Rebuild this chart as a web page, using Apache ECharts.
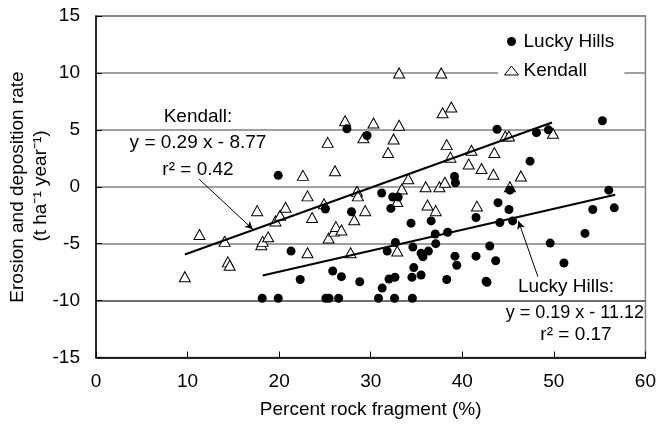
<!DOCTYPE html>
<html>
<head>
<meta charset="utf-8">
<script src="https://cdn.jsdelivr.net/npm/echarts@6/dist/echarts.min.js"></script>
<style>
html,body{margin:0;padding:0;background:#fff;}
#c{width:659px;height:429px;}
</style>
</head>
<body>
<div id="c"></div>
<script>
// ---- data ----
const xTicks = [0, 10, 20, 30, 40, 50, 60];
const yTicks = [-15, -10, -5, 0, 5, 10, 15];

const kendallX = [9.7, 11.3, 14.05, 14.4, 14.6, 17.6, 18.05, 18.2, 18.8, 19.6, 20.1, 20.7, 22.6, 23.1, 23.6, 23.1, 24.9, 25.3, 25.4, 26.0, 26.2, 26.8, 26.1, 27.2, 27.8, 28.2, 28.5, 28.6, 29.2, 29.4, 30.3, 31.9, 32.5, 32.9, 32.9, 33.1, 33.1, 33.4, 34.1, 36.0, 36.2, 37.1, 37.5, 37.7, 37.85, 38.1, 38.3, 38.7, 38.8, 40.7, 41.0, 41.6, 42.1, 43.4, 43.5, 44.7, 45.1, 45.2, 46.4, 49.9];
const kendallY = [-7.9, -4.2, -4.8, -6.6, -6.9, -2.1, -5.1, -4.8, -4.4, -3.0, -2.5, -1.8, 1.0, -0.8, -2.7, -5.8, -1.5, 3.9, -4.5, -3.9, -3.5, -3.8, 1.4, 5.8, -5.8, -2.9, -0.4, -0.8, 4.3, -2.1, 5.6, 3.0, 4.2, -1.3, -5.65, 5.4, 10.0, -0.2, 0.7, 0.0, -1.6, -2.1, 0.0, 10.0, 6.5, 0.4, 3.7, 2.6, 7.0, 2.0, 3.2, -1.7, 1.6, 1.1, 3.0, 4.45, 4.45, 0.0, 0.95, 4.7];

const luckyX = [18.15, 19.9, 19.9, 21.3, 22.3, 25.05, 25.1, 25.45, 25.85, 26.5, 26.8, 27.4, 27.9, 28.8, 29.6, 30.85, 31.2, 31.25, 31.8, 32.0, 32.2, 32.4, 32.6, 32.65, 32.7, 33.0, 34.4, 34.55, 34.6, 34.5, 34.7, 35.5, 35.5, 35.7, 36.3, 36.6, 37.05, 37.1, 38.4, 38.3, 39.15, 39.25, 39.2, 39.4, 41.5, 41.5, 42.6, 42.7, 43.0, 43.65, 43.8, 43.9, 44.1, 45.1, 45.2, 45.5, 47.4, 48.1, 49.4, 49.6, 51.1, 53.4, 54.25, 55.3, 56.0, 56.6];
const luckyY = [-9.8, -9.8, 1.0, -5.65, -8.15, -1.95, -9.8, -9.8, -7.4, -9.8, -7.9, 5.1, -2.2, -8.35, 4.5, -9.8, -0.55, -8.9, -5.65, -8.1, -1.9, -0.9, -9.8, -7.95, -4.9, -0.9, -3.2, -9.8, -5.3, -7.95, -7.1, -5.85, -7.75, -6.15, -5.65, -3.0, -4.15, -5.0, -4.0, -8.15, 0.9, 0.35, -6.1, -6.9, -2.7, -6.1, -8.3, -8.4, -5.2, -6.5, 5.05, -1.4, -3.15, -2.0, -0.3, -3.0, 2.25, 4.75, 5.0, -4.95, -6.7, -4.1, -2.0, 5.8, -0.3, -1.85];

// trend lines (end points)
const kendallTrendX = [9.7, 49.8];
const kendallTrendY = [-5.95, 5.65];
const luckyTrendX = [18.2, 56.7];
const luckyTrendY = [-7.8, -0.7];

// annotation arrows (data coords: label end -> trend line)
const kendallArrowX = [11.27, 17.13];
const kendallArrowY = [0.66, -3.74];
const luckyArrowX = [48.26, 46.13];
const luckyArrowY = [-7.91, -3.01];

const seriesNames = ['Lucky Hills', 'Kendall'];

// ---- chart ----
const FONT = "'Liberation Sans', Arial, sans-serif";
const FS = 19;
const zip = (xs, ys) => xs.map((x, i) => [x, ys[i]]);
const chart = echarts.init(document.getElementById('c'), null, {renderer: 'canvas'});

function txt(x, y, text, align, size, rot) {
  const el = {type: 'text', x: x, y: y, z: 10,
    style: {text: text, font: (size || FS) + 'px ' + FONT, fill: '#000',
      align: align, verticalAlign: 'middle', textAlign: align, textVerticalAlign: 'middle'}};
  if (rot) el.rotation = rot;
  return el;
}

const option = {
  animation: false,
  backgroundColor: '#fff',
  textStyle: {fontFamily: FONT, color: '#000'},
  grid: {left: 96, top: 16, right: 12, bottom: 71.5, show: true, borderColor: '#808080', borderWidth: 1.5, backgroundColor: 'transparent'},
  xAxis: {
    type: 'value', min: xTicks[0], max: xTicks[xTicks.length - 1], interval: 10,
    name: 'Percent rock fragment (%)', nameLocation: 'middle', nameGap: 43,
    nameTextStyle: {fontSize: FS, color: '#000', fontFamily: FONT},
    axisLine: {show: true, onZero: false, lineStyle: {color: '#000', width: 1.5}},
    axisTick: {show: true, inside: true, length: 6, lineStyle: {color: '#000', width: 1}},
    axisLabel: {fontSize: FS, color: '#000', margin: 15, fontFamily: FONT, showMinLabel: true, showMaxLabel: true},
    splitLine: {show: false}
  },
  yAxis: {
    type: 'value', min: yTicks[0], max: yTicks[yTicks.length - 1], interval: 5,
    axisLine: {show: true, onZero: false, lineStyle: {color: '#000', width: 1.5}},
    axisTick: {show: true, inside: true, length: 6, lineStyle: {color: '#000', width: 1}},
    axisLabel: {fontSize: FS, color: '#000', margin: 16, fontFamily: FONT, showMinLabel: true, showMaxLabel: true},
    splitLine: {show: true, lineStyle: {color: ['#808080', '#404040', '#808080', '#808080', '#808080', '#808080', '#808080'], width: 1.5}}
  },
  legend: {
    orient: 'vertical', left: 498, top: 26, padding: [6, 10, 6, 6],
    backgroundColor: '#fff', itemWidth: 14, itemHeight: 9, itemGap: 10,
    textStyle: {fontSize: FS, color: '#000', fontFamily: FONT},
    data: [
      {name: seriesNames[0], icon: 'circle', itemStyle: {color: '#000', borderWidth: 0}},
      {name: seriesNames[1], icon: 'triangle', itemStyle: {color: '#fff', borderColor: '#000', borderWidth: 1}}
    ]
  },
  series: [
    {
      name: seriesNames[1], type: 'scatter', symbol: 'triangle', symbolSize: [11, 10], z: 2,
      itemStyle: {color: '#fff', borderColor: '#000', borderWidth: 1, opacity: 1},
      data: zip(kendallX, kendallY)
    },
    {
      name: seriesNames[0], type: 'scatter', symbol: 'circle', symbolSize: 9, z: 3,
      itemStyle: {color: '#000', opacity: 1},
      data: zip(luckyX, luckyY)
    },
    {
      name: 'Kendall trend', type: 'line', symbol: 'none', z: 4, silent: true,
      lineStyle: {color: '#000', width: 2},
      data: zip(kendallTrendX, kendallTrendY),
      markLine: {
        silent: true, symbol: ['none', 'arrow'], symbolSize: [6, 8], label: {show: false},
        lineStyle: {color: '#000', width: 1, type: 'solid'},
        data: [[{coord: [kendallArrowX[0], kendallArrowY[0]]}, {coord: [kendallArrowX[1], kendallArrowY[1]]}]]
      }
    },
    {
      name: 'Lucky Hills trend', type: 'line', symbol: 'none', z: 4, silent: true,
      lineStyle: {color: '#000', width: 2},
      data: zip(luckyTrendX, luckyTrendY),
      markLine: {
        silent: true, symbol: ['none', 'arrow'], symbolSize: [6, 8], label: {show: false},
        lineStyle: {color: '#000', width: 1, type: 'solid'},
        data: [[{coord: [luckyArrowX[0], luckyArrowY[0]]}, {coord: [luckyArrowX[1], luckyArrowY[1]]}]]
      }
    }
  ],
  graphic: [
    txt(198, 117, 'Kendall:', 'center'),
    txt(198, 143, 'y = 0.29 x - 8.77', 'center'),
    txt(198, 170, 'r\u00B2 = 0.42', 'center'),
    txt(566, 287, 'Lucky Hills:', 'center'),
    txt(644, 313, 'y = 0.19 x - 11.12', 'right', 18),
    txt(576, 335, 'r\u00B2 = 0.17', 'center'),
    txt(18, 187, 'Erosion and deposition rate', 'center', FS, Math.PI / 2),
    txt(41, 186, '(t ha\u207B\u00B9 year\u207B\u00B9)', 'center', FS, Math.PI / 2)
  ]
};
chart.setOption(option);
</script>
</body>
</html>
